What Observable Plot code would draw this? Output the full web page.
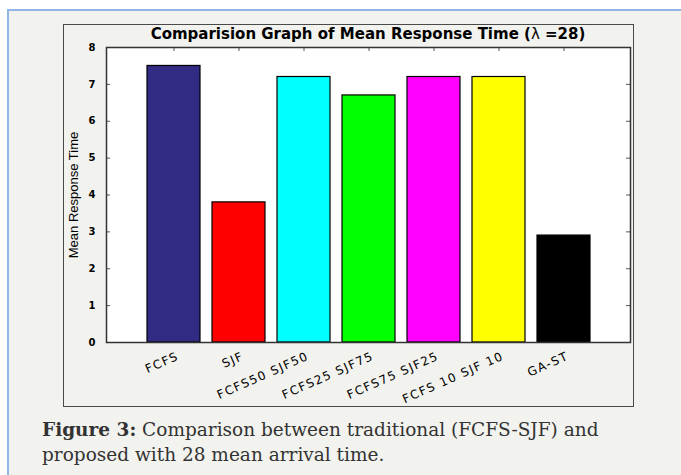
<!DOCTYPE html>
<html><head><meta charset="utf-8">
<script src="https://cdn.jsdelivr.net/npm/d3@7"></script>
<script src="https://cdn.jsdelivr.net/npm/@observablehq/plot@0.6"></script>
<style>
html,body{margin:0;padding:0;background:#fff;width:681px;height:475px;overflow:hidden;position:relative;}
#panel{position:absolute;left:7px;top:9px;width:690px;height:480px;background:#f2f2ee;border-top:2px solid #8fb6e6;border-left:2px solid #8fb6e6;}
#box{position:absolute;left:63px;top:24px;width:571px;height:383px;border:1.5px solid #4a4a4a;box-sizing:border-box;}
#chart{position:absolute;left:64px;top:25px;}
#title{position:absolute;left:106px;width:524px;top:27px;line-height:15px;text-align:center;font-family:"DejaVu Sans",sans-serif;font-weight:bold;font-size:15px;color:#000;white-space:nowrap;}
#title .lam{font-weight:normal;}
#caption{position:absolute;left:42px;top:417px;font-family:"DejaVu Serif",serif;font-size:18.5px;color:#333;line-height:25px;white-space:nowrap;}
</style>
</head><body>
<div id="panel"></div>
<div id="box"></div>
<div id="chart"></div>
<div id="title">Comparision Graph of Mean Response Time (<span class="lam">λ</span> =28)</div>
<div id="caption"><b>Figure 3:</b> Comparison between traditional (FCFS-SJF) and<br>proposed with 28 mean arrival time.</div>
<script>
const categories = ["FCFS", "SJF", "FCFS50 SJF50", "FCFS25 SJF75", "FCFS75 SJF25", "FCFS 10 SJF 10", "GA-ST"];
const values = [7.5, 3.8, 7.2, 6.7, 7.2, 7.2, 2.9];
const barColors = ["#312b84", "#ff0000", "#00ffff", "#00ff00", "#ff00ff", "#ffff00", "#000000"];
const yTicks = [0, 1, 2, 3, 4, 5, 6, 7, 8];
const yLabel = "Mean Response Time";

const rows = categories.map((c, i) => ({category: c, value: values[i]}));

const W = 568, H = 380, mL = 42, mR = 2, mT = 22, mB = 63;
const innerW = W - mL - mR, innerH = H - mT - mB;
const tick = 4;

const plot = Plot.plot({
  width: W, height: H,
  marginLeft: mL, marginRight: mR, marginTop: mT, marginBottom: mB,
  style: {background: "transparent", color: "#000", overflow: "visible", fontFamily: "DejaVu Sans, sans-serif"},
  x: {type: "band", domain: categories, paddingInner: 0.19, paddingOuter: 0.595},
  y: {domain: [0, 8]},
  color: {domain: categories, range: barColors},
  marks: [
    Plot.frame({fill: "white", stroke: null}),
    Plot.tickY(yTicks, {y: d => d, insetRight: innerW - tick, stroke: "#555"}),
    Plot.tickY(yTicks, {y: d => d, insetLeft: innerW - tick, stroke: "#555"}),
    Plot.tickX(categories, {x: d => d, insetBottom: innerH - tick, stroke: "#555"}),
    Plot.tickX(categories, {x: d => d, insetTop: innerH - tick, stroke: "#555"}),
    Plot.barY(rows, {x: "category", y: "value", fill: "category", stroke: "#000", strokeWidth: 1.2}),
    Plot.frame({stroke: "#333", strokeWidth: 1.5}),
    Plot.axisY(yTicks, {tickSize: 0, tickPadding: 11, fontSize: 10, fontWeight: "bold", label: null}),
    Plot.axisX({tickSize: 0, tickPadding: 13, tickRotate: -24, dx: 4, fontSize: 12, label: null}),
    Plot.text([yLabel], {frameAnchor: "left", textAnchor: "middle", rotate: -90, dx: -33, fontSize: 13, fontFamily: "Liberation Sans Narrow, Arial Narrow, sans-serif", fill: "#000"})
  ]
});
document.getElementById("chart").appendChild(plot);
d3.select(plot).selectAll("g[aria-label='x-axis tick label'] text").style("letter-spacing", "1.4px");
</script>
</body></html>
